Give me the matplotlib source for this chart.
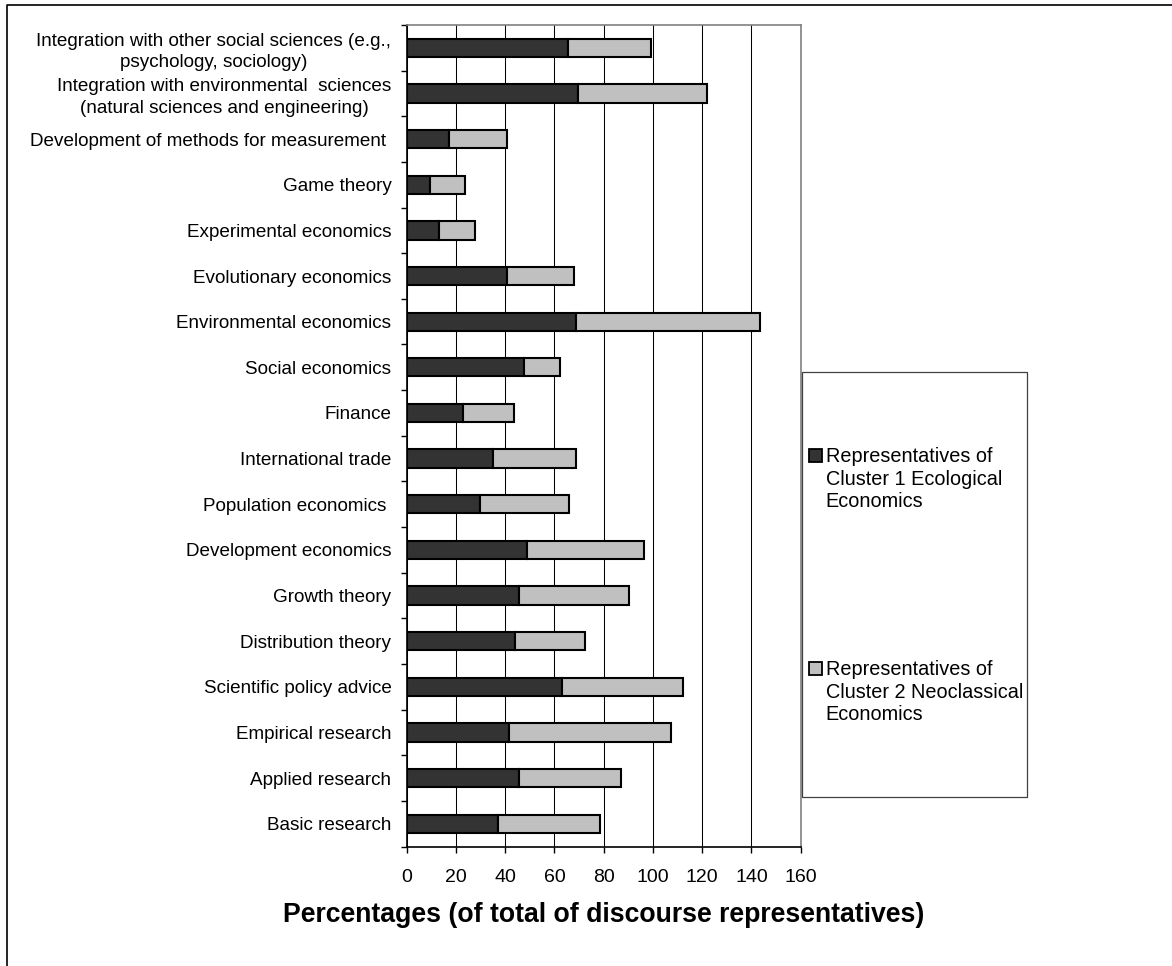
import numpy as np
import matplotlib
matplotlib.use("Agg")
import matplotlib.pyplot as plt
from matplotlib.patches import Rectangle
from matplotlib.lines import Line2D

plt.rcParams['font.family'] = ['Liberation Sans', 'DejaVu Sans']

# categories from top to bottom as in the chart
categories = [
    "Integration with other social sciences (e.g.,\npsychology, sociology)",
    "Integration with environmental  sciences\n(natural sciences and engineering)",
    "Development of methods for measurement ",
    "Game theory",
    "Experimental economics",
    "Evolutionary economics",
    "Environmental economics",
    "Social economics",
    "Finance",
    "International trade",
    "Population economics ",
    "Development economics",
    "Growth theory",
    "Distribution theory",
    "Scientific policy advice",
    "Empirical research",
    "Applied research",
    "Basic research",
]
cluster1 = [65.7, 69.5, 17.1, 9.3, 13.3, 40.9, 68.7, 47.8, 22.9,
            35.2, 29.7, 48.8, 45.8, 43.9, 62.9, 41.7, 45.8, 37.1]
cluster2 = [33.5, 52.6, 23.8, 14.4, 14.3, 27.0, 74.8, 14.3, 20.6,
            33.4, 36.4, 47.5, 44.4, 28.6, 49.4, 65.6, 41.3, 41.5]
series_names = ["Representatives of\nCluster 1 Ecological\nEconomics",
                "Representatives of\nCluster 2 Neoclassical\nEconomics"]
colors = ["#333333", "#c0c0c0"]
xticks = [0, 20, 40, 60, 80, 100, 120, 140, 160]
xlabel = "Percentages (of total of discourse representatives)"

W, H = 1172, 966
fig = plt.figure(figsize=(W / 100, H / 100), dpi=100)
ax = fig.add_axes([406.7 / W, 1 - 846.5 / H, 394 / W, 821.5 / H])

y = np.arange(len(categories))
ax.barh(y, cluster1, height=0.4, color=colors[0], edgecolor="black", linewidth=1.5, zorder=3)
ax.barh(y, cluster2, left=cluster1, height=0.4, color=colors[1], edgecolor="black", linewidth=1.5, zorder=3)

ax.set_ylim(len(categories) - 0.5, -0.5)
ax.set_xlim(0, 160)
ax.set_xticks(xticks)
ax.set_xticklabels([str(t) for t in xticks], fontsize=14)
ax.set_yticks(y)
ax.set_yticklabels(categories, fontsize=13.6, multialignment="center", linespacing=1.32)
ax.set_yticks(np.arange(len(categories) + 1) - 0.5, minor=True)
ax.tick_params(axis="y", which="major", length=0, pad=11)
ax.tick_params(axis="y", which="minor", length=4.5, width=1, color="black", direction="out")
ax.tick_params(axis="x", length=4.5, width=1, color="black", pad=11.5)
ax.grid(axis="x", color="black", linewidth=0.75, zorder=0)
ax.set_axisbelow(True)

for side in ["left", "bottom"]:
    ax.spines[side].set_color("black")
    ax.spines[side].set_linewidth(1.2)
for side in ["top", "right"]:
    ax.spines[side].set_color("#808080")
    ax.spines[side].set_linewidth(1.2)

fig.text(604 / W, 1 - 915 / H, xlabel, fontsize=19.2, fontweight="bold",
         ha="center", va="center")

# legend box
fig.add_artist(Rectangle((801.7 / W, 1 - 797 / H), 225.3 / W, 425 / H,
                         transform=fig.transFigure, facecolor="white",
                         edgecolor="#404040", linewidth=0.9))
for i, (name, c) in enumerate(zip(series_names, colors)):
    cy = [455, 668][i]
    fig.add_artist(Rectangle((808.5 / W, 1 - (cy + 6.5) / H), 13 / W, 13 / H,
                             transform=fig.transFigure, facecolor=c,
                             edgecolor="black", linewidth=1.3))
    fig.text(825.5 / W, 1 - (cy - 8) / H, name, fontsize=14.3, ha="left", va="top",
             linespacing=1.25)

# outer border (top and left visible)
fig.add_artist(Line2D([6.5 / W, 6.5 / W, 1], [0, 1 - 5 / H, 1 - 5 / H],
                      transform=fig.transFigure, color="black", linewidth=1.2))

fig.savefig("out.png", dpi=100)
